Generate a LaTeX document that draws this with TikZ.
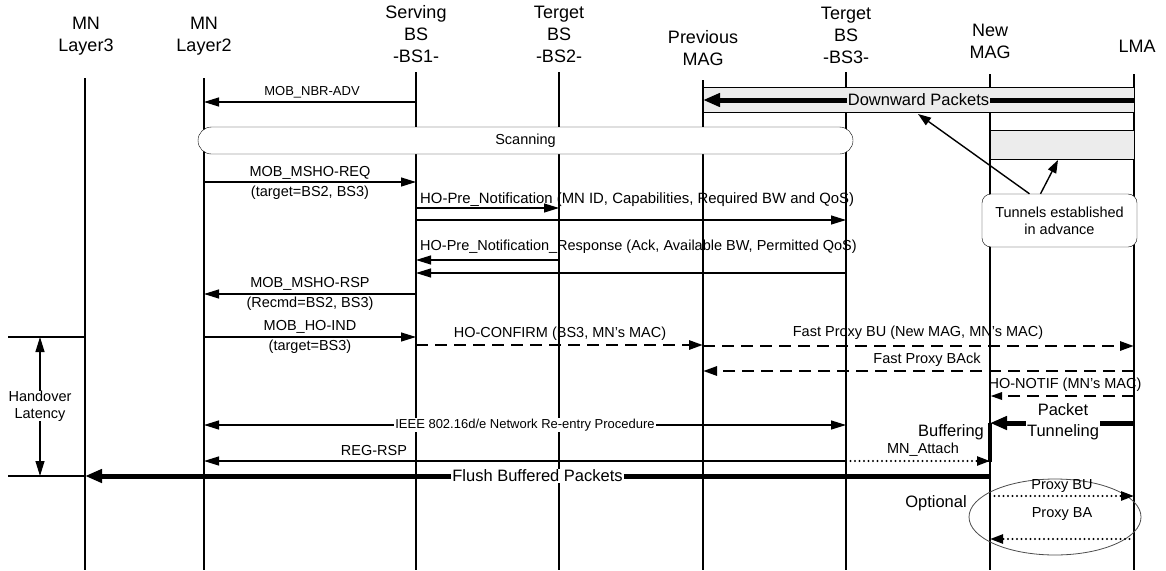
\documentclass[tikz,border=0pt]{standalone}
\usepackage{fontspec}
\setmainfont{Liberation Sans}
\usetikzlibrary{arrows.meta}
\begin{document}
\begin{tikzpicture}[x=1pt,y=-1pt,
  head/.style={font=\fontsize{18}{22}\selectfont, align=center, inner sep=0pt},
  sml/.style={font=\fontsize{13}{15}\selectfont, inner sep=1pt},
  lbl/.style={font=\fontsize{14.5}{17}\selectfont, inner sep=0pt, align=center},
  big/.style={font=\fontsize{16.5}{21}\selectfont, inner sep=1pt, align=center},
  life/.style={line width=1.1pt},
  msg/.style={line width=1.2pt, -{Triangle[length=15pt,width=9pt]}},
  fat/.style={line width=5pt, -{Triangle[length=17pt,width=13pt]}},
  dmsg/.style={line width=2.8pt, dash pattern=on 12pt off 7pt, -{Triangle[length=14pt,width=9pt]}},
  dotmsg/.style={line width=2.4pt, dash pattern=on 0pt off 4.5pt, line cap=round, -{Triangle[length=13pt,width=9pt]}}]
\useasboundingbox (0,0) rectangle (1166,570);
\coordinate (L3) at (85,78);
\coordinate (L2) at (204,78);
\coordinate (BS1) at (416,72);
\coordinate (BS2) at (559,72);
\coordinate (PM) at (703,80);
\coordinate (BS3) at (846,72);
\coordinate (NM) at (990,74);
\coordinate (LMA) at (1134,74);
\node[head] (l3) at (86,36) {MN\\Layer3};
\node[head] (l2) at (204,36) {MN\\Layer2};
\node[head] (bs1) at (416,34) {Serving\\BS\\-BS1-};
\node[head] (bs2) at (559,34) {Terget\\BS\\-BS2-};
\node[head] (pm) at (703,48) {Previous\\MAG};
\node[head] (bs3) at (846,35) {Terget\\BS\\-BS3-};
\node[head] (nm) at (990,41) {New\\MAG};
\node[head] (lma) at (1137,46) {LMA};
\foreach \c in {L3,L2,BS1,BS2,PM,BS3,NM,LMA}
  \draw[life] (\c) -- (\c |- 0,570);
\draw[msg] (BS1 |- 0,102) -- (L2 |- 0,102);
\node[sml] (nbr) at (312,92) {MOB\_NBR-ADV};
\draw[fill=gray!15] (PM |- 0,87) rectangle (LMA |- 0,112);
\draw[fill=gray!15] (NM |- 0,130) rectangle (LMA |- 0,159);
\draw[fat] (LMA |- 0,100) -- (PM |- 0,100) node[midway, big, fill=gray!15] (down) {Downward Packets};
\node[draw, fill=white, rounded corners=13.5pt, minimum width=655pt, minimum height=27pt, lbl] (scan) at (525.5,140.5) {Scanning};
\draw[msg] (L2 |- 0,182) -- (BS1 |- 0,182);
\node[lbl] (req) at (310,173) {MOB\_MSHO-REQ};
\node[lbl] (reqt) at (310,193) {(target=BS2, BS3)};
\node[lbl, anchor=west, font=\fontsize{14.9}{17}\selectfont] (pre) at (420,200) {HO-Pre\_Notification (MN ID, Capabilities, Required BW and QoS)};
\draw[msg] (BS1 |- 0,208) -- (BS2 |- 0,208);
\draw[msg] (BS1 |- 0,220) -- (BS3 |- 0,220);
\node[lbl, anchor=west] (prer) at (420,247) {HO-Pre\_Notification\_Response (Ack, Available BW, Permitted QoS)};
\draw[msg] (BS2 |- 0,260) -- (BS1 |- 0,260);
\draw[msg] (BS3 |- 0,273) -- (BS1 |- 0,273);
\node[draw, fill=white, rounded corners=9pt, minimum width=155pt, minimum height=53pt, lbl] (tun) at (1059.5,220.5) {Tunnels established\\in advance};
\coordinate (t1) at (918,114);
\coordinate (t2) at (1058,160);
\draw[line width=1.4pt, -{Triangle[length=13pt,width=9pt]}] ([xshift=-30pt]tun.north) -- (t1);
\draw[line width=1.4pt, -{Triangle[length=13pt,width=9pt]}] ([xshift=-19pt]tun.north) -- (t2);
\draw[msg] (BS1 |- 0,294) -- (L2 |- 0,294);
\node[lbl] (rsp) at (310,284) {MOB\_MSHO-RSP};
\node[lbl] (rspt) at (310,304) {(Recmd=BS2, BS3)};
\draw[msg] (L2 |- 0,337) -- (BS1 |- 0,337);
\node[lbl] (ind) at (310,327) {MOB\_HO-IND};
\node[lbl] (indt) at (310,347) {(target=BS3)};
\draw[dmsg] (BS1 |- 0,345) -- (PM |- 0,345);
\node[lbl] (conf) at (560,334) {HO-CONFIRM (BS3, MN's MAC)};
\draw[dmsg] (PM |- 0,346) -- (LMA |- 0,346);
\node[lbl] (fbu) at (918,333) {Fast Proxy BU (New MAG, MN's MAC)};
\draw[dmsg] (LMA |- 0,371) -- (PM |- 0,371);
\node[lbl] (fback) at (927,360) {Fast Proxy BAck};
\draw[dmsg, -{Triangle[length=12pt,width=7pt]}] (LMA |- 0,396) -- (NM |- 0,396);
\node[lbl] (notif) at (1065,385) {HO-NOTIF (MN's MAC)};
\draw[fat] (LMA |- 0,423) -- (NM |- 0,423);
\node[big, fill=white] (tnl) at (1063,422) {Packet\\Tunneling};
\draw[line width=4pt] (NM |- 0,423) -- (NM |- 0,462);
\node[big] (buf) at (951,432) {Buffering};
\draw[msg, {Triangle[length=15pt,width=9pt]}-{Triangle[length=15pt,width=9pt]}] (L2 |- 0,425) -- (BS3 |- 0,425) node[midway, sml, fill=white] (ieee) {IEEE 802.16d/e Network Re-entry Procedure};
\draw[msg] (BS3 |- 0,461) -- (L2 |- 0,461);
\node[lbl] (reg) at (374,451) {REG-RSP};
\draw[dotmsg] (BS3 |- 0,461) -- (NM |- 0,461);
\node[lbl] (att) at (923,450) {MN\_Attach};
\draw[fat] (NM |- 0,476) -- (L3 |- 0,476) node[midway, big, fill=white] (flush) {Flush Buffered Packets};
\draw[line width=0.8pt, gray!60!black] (1055,517) ellipse [x radius=86pt, y radius=38pt];
\node[big] (opt) at (936,503) {Optional};
\draw[dotmsg] (NM |- 0,496) -- (LMA |- 0,496);
\node[lbl] (pbu) at (1062,486) {Proxy BU};
\draw[dotmsg] (LMA |- 0,539) -- (NM |- 0,539);
\node[lbl] (pba) at (1062,514) {Proxy BA};
\coordinate (lt) at (8,337);
\coordinate (lb) at (8,476);
\draw[life] (lt) -- (L3 |- lt);
\draw[life] (lb) -- (L3 |- lb);
\node[lbl] (lat) at (40,406) {Handover\\Latency};
\draw[msg] (lat.north) -- (lat.north |- lt);
\draw[msg] (lat.south) -- (lat.south |- lb);
\end{tikzpicture}
\end{document}
